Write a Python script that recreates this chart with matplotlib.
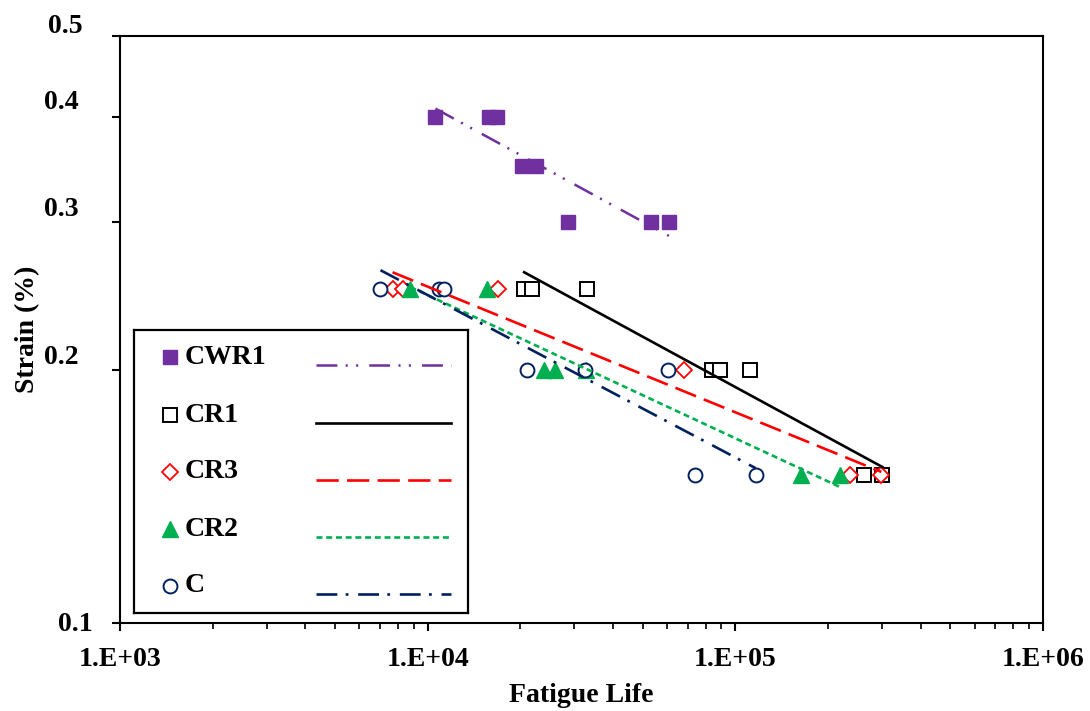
import numpy as np
import matplotlib
matplotlib.use("Agg")
import matplotlib.pyplot as plt
from matplotlib.ticker import FixedLocator, FuncFormatter, NullLocator, NullFormatter

plt.rcParams['font.family'] = ['Liberation Serif', 'DejaVu Serif']
plt.rcParams['font.weight'] = 'bold'
plt.rcParams['lines.scale_dashes'] = False

# fatigue life (cycles) and strain amplitude (%)
cwr1_N = [10600, 15850, 16830, 20300, 22530, 28600, 53150, 60800]
cwr1_s = [0.40, 0.40, 0.40, 0.35, 0.35, 0.30, 0.30, 0.30]

cr1_N = [20590, 21860, 32960, 83830, 89000, 111400, 262800, 300700]
cr1_s = [0.25, 0.25, 0.25, 0.20, 0.20, 0.20, 0.15, 0.15]

cr3_N = [7690, 8340, 16950, 68000, 236700, 298300]
cr3_s = [0.25, 0.25, 0.25, 0.20, 0.15, 0.15]

cr2_N = [8790, 15620, 23900, 25960, 32710, 163000, 219600]
cr2_s = [0.25, 0.25, 0.20, 0.20, 0.20, 0.15, 0.15]

c_N = [7025, 10910, 11330, 21060, 32470, 60370, 73850, 116500]
c_s = [0.25, 0.25, 0.25, 0.20, 0.20, 0.20, 0.15, 0.15]

labels = ['CWR1', 'CR1', 'CR3', 'CR2', 'C']
y_ticks = [0.1, 0.2, 0.3, 0.4, 0.5]
x_ticks = [1e3, 1e4, 1e5, 1e6]

# styles
purple = '#7030A0'
green = '#00B050'
red = '#FF0000'
navy = '#002060'
series = [
    (cwr1_N, cwr1_s, dict(marker='s', ms=10.5, mfc=purple, mec=purple, mew=1.0),
     dict(color=purple, lw=1.8, dashes=(15, 6, 1.5, 6, 1.5, 8))),
    (cr1_N, cr1_s, dict(marker='s', ms=9.5, mfc='white', mec='black', mew=1.4),
     dict(color='black', lw=1.9, ls='-')),
    (cr3_N, cr3_s, dict(marker='D', ms=8, mfc='white', mec=red, mew=1.3),
     dict(color=red, lw=1.9, dashes=(16, 6))),
    (cr2_N, cr2_s, dict(marker='^', ms=11, mfc=green, mec=green, mew=1.0),
     dict(color=green, lw=1.9, dashes=(4.3, 2.7))),
    (c_N, c_s, dict(marker='o', ms=10, mfc='white', mec=navy, mew=1.4),
     dict(color=navy, lw=1.9, dashes=(15, 6, 2, 7))),
]

fig = plt.figure(figsize=(10.9, 7.11), dpi=100)
ax = fig.add_axes([120 / 1090, 1 - 623 / 711, 923 / 1090, 587 / 711])

for N, s, mk, ln in series:
    N = np.array(N, float)
    s = np.array(s, float)
    ax.plot(N, s, ls='none', zorder=2, **mk)
    # power-law trendline, as Excel does
    b, a = np.polyfit(np.log10(N), np.log10(s), 1)
    xf = np.array([N.min(), N.max()])
    ax.plot(xf, 10 ** (a + b * np.log10(xf)), zorder=3, **ln)

ax.set_xscale('log')
ax.set_yscale('log')
ax.set_xlim(1e3, 1e6)
ax.set_ylim(0.1, 0.5)

ax.xaxis.set_major_locator(FixedLocator(x_ticks))
ax.xaxis.set_major_formatter(FuncFormatter(lambda v, p: '1.E+%02d' % int(round(np.log10(v)))))
ax.yaxis.set_major_locator(FixedLocator(y_ticks))
ax.yaxis.set_major_formatter(NullFormatter())
ax.yaxis.set_minor_locator(NullLocator())
ax.yaxis.set_minor_formatter(NullFormatter())
ax.xaxis.set_minor_formatter(NullFormatter())

for sp in ax.spines.values():
    sp.set_linewidth(1.5)
ax.tick_params(axis='x', which='major', direction='out', length=6, width=1.5,
               labelsize=20, pad=11, top=False)
ax.tick_params(axis='x', which='minor', direction='out', length=4, width=1.2, top=False)
ax.tick_params(axis='y', which='major', direction='out', length=6, width=1.5, right=False)

# y tick labels sit a little above their ticks in the original
y_offsets = [(-20, -1), (-30, 9), (-30, 9), (-30, 11), (-27, 7)]
for v, (dx, dy) in zip(y_ticks, y_offsets):
    ax.annotate('%.1f' % v, xy=(0, v), xycoords=('axes fraction', 'data'),
                xytext=(dx, dy), textcoords='offset points',
                ha='right', va='center', fontsize=20, fontweight='bold')

ax.set_xlabel('Fatigue Life', fontsize=20, fontweight='bold', labelpad=8)
ax.set_ylabel('Strain (%)', fontsize=20, fontweight='bold', labelpad=48)

# hand-built legend box (markers left, trendline samples right)
lg = fig.add_axes([134 / 1090, 1 - 613 / 711, 334 / 1090, 283 / 711])
lg.set_xlim(134, 468)
lg.set_ylim(613, 330)
lg.set_xticks([])
lg.set_yticks([])
for sp in lg.spines.values():
    sp.set_linewidth(1.6)
row_y = [357, 415, 472, 529, 586]
for (N, s, mk, ln), lab, yy in zip(series, labels, row_y):
    lg.plot([170], [yy], ls='none', **mk)
    lg.text(185, yy, lab, ha='left', va='center', fontsize=20, fontweight='bold')
    lg.plot([316, 451], [yy + 8, yy + 8], **ln)

fig.savefig('out.png', dpi=100)
